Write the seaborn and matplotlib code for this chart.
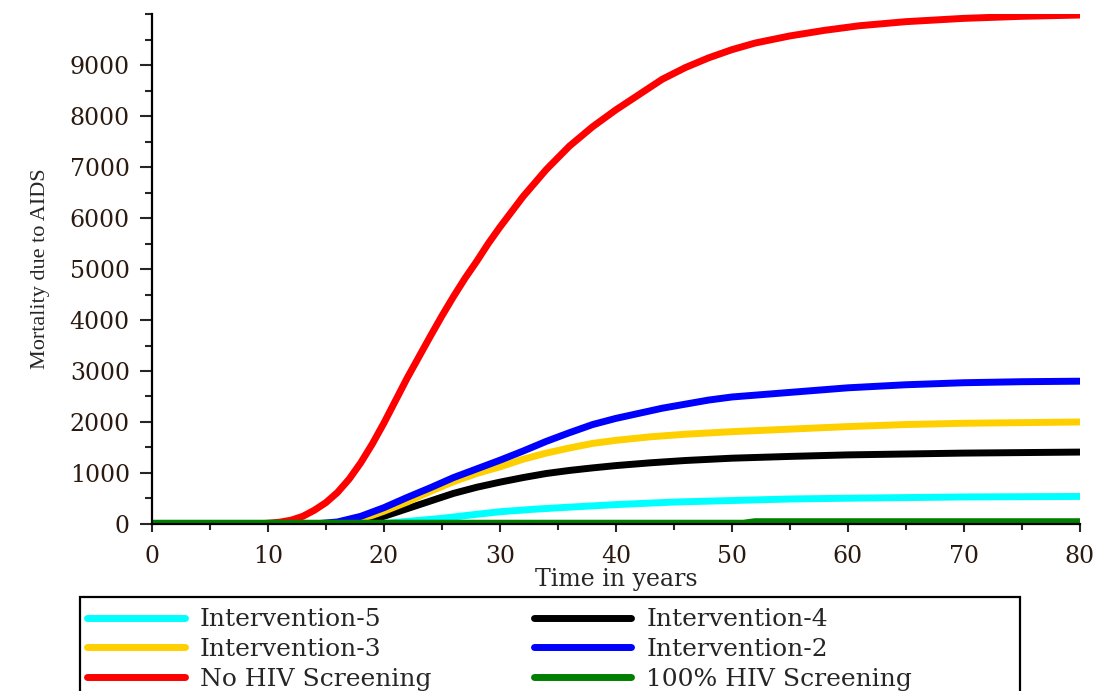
import numpy as np
import pandas as pd
import matplotlib
matplotlib.use("Agg")
import matplotlib.pyplot as plt
from matplotlib.patches import Rectangle
from matplotlib.ticker import MultipleLocator
import seaborn as sns

# ------------------------------------------------------------------
# valores (anos, mortalidade acumulada)
# ------------------------------------------------------------------
t_red = [0, 9, 10, 11, 12, 13, 14, 15, 16, 17, 18, 19, 20, 21, 22, 23, 24, 25, 26, 27, 28, 29, 30,
         32, 34, 36, 38, 40, 42, 44, 46, 48, 50, 52, 55, 58, 61, 65, 70, 75, 80]
y_red = [0, 0, 15, 35, 75, 150, 270, 420, 620, 880, 1200, 1570, 1980, 2420, 2860, 3270, 3680, 4080,
         4460, 4820, 5150, 5500, 5820, 6420, 6950, 7410, 7790, 8120, 8420, 8720, 8950, 9140, 9300,
         9430, 9570, 9680, 9770, 9850, 9915, 9955, 9980]

t_blue = [0, 14, 16, 18, 20, 22, 24, 26, 28, 30, 32, 34, 36, 38, 40, 42, 44, 46, 48, 50,
          55, 60, 65, 70, 75, 80]
y_blue = [0, 0, 40, 150, 320, 520, 710, 910, 1080, 1250, 1430, 1620, 1790, 1950, 2070, 2170,
          2270, 2350, 2430, 2490, 2580, 2670, 2730, 2770, 2790, 2800]

t_yellow = [0, 15, 17, 19, 20, 22, 24, 26, 28, 30, 32, 34, 36, 38, 40, 43, 46, 50, 55, 60, 65, 70, 80]
y_yellow = [0, 0, 50, 170, 250, 430, 640, 830, 990, 1120, 1270, 1390, 1490, 1580, 1640, 1710,
            1760, 1810, 1860, 1910, 1950, 1975, 2000]

t_black = [0, 17, 18, 20, 22, 24, 26, 28, 30, 32, 34, 36, 38, 40, 43, 46, 50, 55, 60, 70, 80]
y_black = [0, 0, 40, 150, 300, 450, 600, 720, 820, 910, 990, 1050, 1100, 1145, 1200, 1245,
           1290, 1325, 1355, 1390, 1410]

t_cyan = [0, 19, 20, 22, 25, 28, 30, 33, 36, 40, 45, 50, 55, 60, 70, 80]
y_cyan = [0, 0, 10, 50, 110, 190, 240, 290, 330, 380, 430, 460, 490, 505, 530, 540]

t_green = [0, 51, 52, 80]
y_green = [15, 15, 45, 45]

series = {
    "Intervention-5": (t_cyan, y_cyan),
    "Intervention-4": (t_black, y_black),
    "Intervention-3": (t_yellow, y_yellow),
    "Intervention-2": (t_blue, y_blue),
    "No HIV Screening": (t_red, y_red),
    "100% HIV Screening": (t_green, y_green),
}
cores = {
    "Intervention-5": "#00FFFF",
    "Intervention-4": "#000000",
    "Intervention-3": "#FFD000",
    "Intervention-2": "#0000FF",
    "No HIV Screening": "#FF0000",
    "100% HIV Screening": "#007F00",
}
ordem_desenho = ["No HIV Screening", "Intervention-4", "Intervention-3", "Intervention-2",
                 "Intervention-5", "100% HIV Screening"]

linhas = []
for nome, (t, y) in series.items():
    linhas.append(pd.DataFrame({"tempo": t, "mortalidade": y, "cenario": nome}))
df = pd.concat(linhas, ignore_index=True)

# ------------------------------------------------------------------
# figura
# ------------------------------------------------------------------
sns.set_style("white")
plt.rcParams["font.family"] = ["DejaVu Serif"]

fig = plt.figure(figsize=(11.05, 6.91), dpi=100)
ax = fig.add_axes([0.1376, 0.2417, 0.977 - 0.1376, 0.9797 - 0.2417])

sns.lineplot(data=df, x="tempo", y="mortalidade", hue="cenario", hue_order=ordem_desenho,
             palette=cores, linewidth=5, ax=ax, estimator=None, sort=False)

handles, labels = ax.get_legend_handles_labels()
ax.get_legend().remove()
h = dict(zip(labels, handles))
for ln in h.values():
    ln.set_linewidth(5)

ax.set_xlim(0, 80)
ax.set_ylim(0, 10000)
ax.xaxis.set_major_locator(MultipleLocator(10))
ax.xaxis.set_minor_locator(MultipleLocator(5))
ax.yaxis.set_major_locator(MultipleLocator(1000))
ax.yaxis.set_minor_locator(MultipleLocator(500))
ax.set_yticks(np.arange(0, 9001, 1000))

for lado in ["top", "right"]:
    ax.spines[lado].set_visible(False)
for lado in ["left", "bottom"]:
    ax.spines[lado].set_linewidth(1.6)
    ax.spines[lado].set_color("black")

ax.tick_params(axis="y", which="major", direction="out", length=9, width=1.5, pad=7,
               labelsize=17, left=True, labelcolor="#2a1a10")
ax.tick_params(axis="y", which="minor", direction="out", length=5, width=1.5, left=True)
ax.tick_params(axis="x", which="major", direction="out", length=6, width=1.5, pad=9,
               labelsize=17, bottom=True, labelcolor="#2a1a10")
ax.tick_params(axis="x", which="minor", direction="out", length=4, width=1.5, bottom=True)

ax.set_xlabel("Time in years", fontsize=17, labelpad=0)
ax.set_ylabel("Mortality due to AIDS", fontsize=16, labelpad=14,
              family=["Liberation Serif", "DejaVu Serif"])

# legenda em 2 colunas, caixa desenhada à parte (sai pela borda de baixo)
ordem_legenda = ["Intervention-5", "Intervention-3", "No HIV Screening",
                 "Intervention-4", "Intervention-2", "100% HIV Screening"]
leg = fig.legend([h[k] for k in ordem_legenda], ordem_legenda, ncol=2,
                 loc="upper left", bbox_to_anchor=(76 / 1105, 1 - 597 / 691),
                 fontsize=18, frameon=False, handlelength=3.9, handletextpad=0.6,
                 columnspacing=4.1, labelspacing=0.27, borderpad=0.45, borderaxespad=0)

caixa = Rectangle((80 / 1105, -0.05), 940 / 1105, 0.05 + 1 - 597 / 691,
                  transform=fig.transFigure, fill=False, edgecolor="black", linewidth=1.6)
fig.patches.append(caixa)

plt.savefig("out.png", dpi=100)
plt.close()
